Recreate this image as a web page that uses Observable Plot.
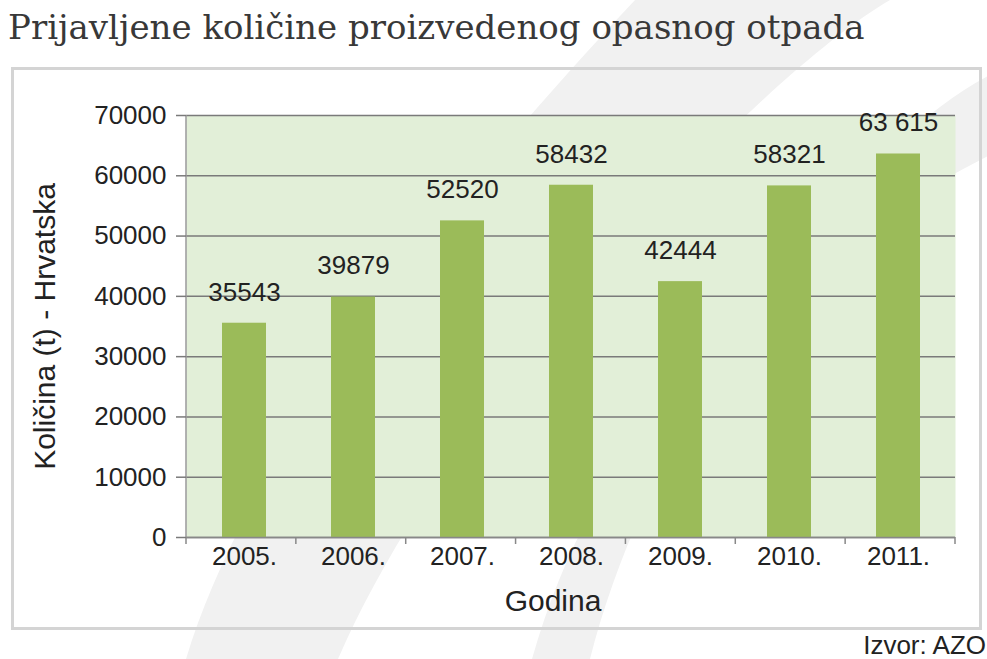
<!DOCTYPE html>
<html>
<head>
<meta charset="utf-8">
<script src="https://cdn.jsdelivr.net/npm/d3@7"></script>
<script src="https://cdn.jsdelivr.net/npm/@observablehq/plot@0.6"></script>
<style>
  html, body { margin: 0; padding: 0; background: #fff; }
  #page { position: relative; width: 987px; height: 659px; overflow: hidden; background: #fff; font-family: "Liberation Sans", Arial, sans-serif; }
  .stripe { position: absolute; left: 0; top: 0; width: 987px; height: 659px; background: #f1f1f1; }
  #s1 { clip-path: path("M186,659 C240,480 400,250 635,0 L890,0 C760,75 450,400 338,659 Z"); }
  #s2 { clip-path: path("M532,659 C600,420 760,270 1000,150 L1000,70 C850,140 650,420 590,659 Z"); }
  #title { position: absolute; left: 8px; top: 7px; font-family: "DejaVu Serif", serif; font-size: 34px; color: #383838; white-space: nowrap; }
  #panel { position: absolute; left: 11px; top: 67px; width: 971px; height: 563px; box-sizing: border-box; border: 3px solid #d4d4d4; }
  #chart { position: absolute; left: 0; top: 68px; }
  #source { position: absolute; right: 1px; top: 630px; font-size: 26px; color: #222; }
</style>
</head>
<body>
<div id="page">
  <div class="stripe" id="s1"></div>
  <div class="stripe" id="s2"></div>
  <div id="title">Prijavljene količine proizvedenog opasnog otpada</div>
  <div id="panel"></div>
  <div id="chart"></div>
  <div id="source">Izvor: AZO</div>
</div>
<script>
const years = ["2005.", "2006.", "2007.", "2008.", "2009.", "2010.", "2011."];
const values = [35543, 39879, 52520, 58432, 42444, 58321, 63615];
const valueLabels = ["35543", "39879", "52520", "58432", "42444", "58321", "63 615"];
const yTicks = [0, 10000, 20000, 30000, 40000, 50000, 60000, 70000];
const yLabel = "Količina (t) - Hrvatska";
const xLabel = "Godina";

const data = years.map((y, i) => ({year: y, value: values[i], label: valueLabels[i]}));

// boundary ticks between categories on the x axis
function bandBoundaryTicks(index, scales, values, dims) {
  const g = d3.create("svg:g");
  const x0 = dims.marginLeft, x1 = dims.width - dims.marginRight;
  const y0 = dims.height - dims.marginBottom;
  const n = years.length;
  for (let i = 0; i <= n; i++) {
    const x = x0 + (x1 - x0) * i / n;
    g.append("line").attr("x1", x).attr("x2", x).attr("y1", y0).attr("y2", y0 + 7)
      .attr("stroke", "#888").attr("stroke-width", 1.5);
  }
  return g.node();
}
function leftAxisLine(index, scales, values, dims) {
  const g = d3.create("svg:g");
  g.append("line").attr("x1", dims.marginLeft).attr("x2", dims.marginLeft)
    .attr("y1", dims.marginTop).attr("y2", dims.height - dims.marginBottom)
    .attr("stroke", "#999").attr("stroke-width", 1.5);
  return g.node();
}

const chart = Plot.plot({
  width: 987,
  height: 560,
  marginLeft: 186,
  marginRight: 32,
  marginTop: 47,
  marginBottom: 91,
  style: {fontFamily: "'Liberation Sans', Arial, sans-serif", fontSize: "26px", color: "#222", background: "transparent", overflow: "visible"},
  x: {type: "band", domain: years, paddingInner: 0.6, paddingOuter: 0.3},
  y: {domain: [0, 70000]},
  marks: [
    Plot.frame({fill: "#e2efd8", stroke: null}),
    Plot.gridY(yTicks, {stroke: "#7a7a7a", strokeOpacity: 1, strokeWidth: 1.5}),
    Plot.barY(data, {x: "year", y: "value", fill: "#9bbb59"}),
    leftAxisLine,
    Plot.ruleY([0], {stroke: "#888", strokeWidth: 1.5}),
    bandBoundaryTicks,
    Plot.axisY({ticks: yTicks, tickSize: 10, tickPadding: 10, tickFormat: d3.format("d"), fontSize: 26, stroke: "#7a7a7a", strokeWidth: 1.5, label: null}),
    Plot.axisX({tickSize: 0, tickPadding: 9, fontSize: 26, label: null}),
    Plot.text(data, {x: "year", y: "value", text: "label", dy: -31, fontSize: 26, fill: "#222"}),
    Plot.text([xLabel], {frameAnchor: "bottom", lineAnchor: "middle", textAnchor: "middle", dy: 64, dx: -18, fontSize: 30, fill: "#222"}),
    Plot.text([yLabel], {frameAnchor: "left", textAnchor: "middle", lineAnchor: "middle", rotate: -90, dx: -141, fontSize: 30, fill: "#222"})
  ]
});
document.getElementById("chart").appendChild(chart);
</script>
</body>
</html>
